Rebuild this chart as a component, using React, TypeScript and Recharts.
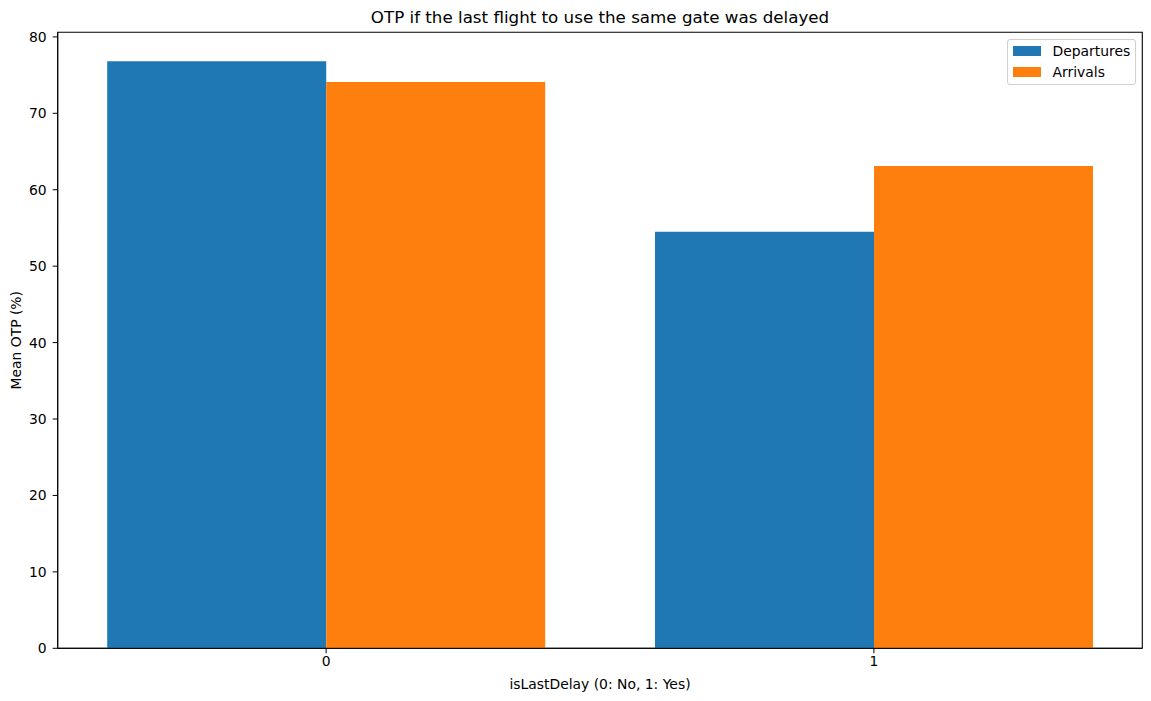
import React from 'react';
import { BarChart, Bar, XAxis, YAxis, Legend, ReferenceArea } from 'recharts';

const categories = [0, 1];
const departures = [76.8, 54.5];
const arrivals = [74.1, 63.1];
const seriesNames = ['Departures', 'Arrivals'];
const yTicks = [0, 10, 20, 30, 40, 50, 60, 70, 80];
const xTicks = [0, 1];
const title = 'OTP if the last flight to use the same gate was delayed';
const xLabel = 'isLastDelay (0: No, 1: Yes)';
const yLabel = 'Mean OTP (%)';

const data = categories.map((c, i) => ({ x: c, Departures: departures[i], Arrivals: arrivals[i] }));

const Y_MAX = 80.6;
const X_MIN = -0.49;
const X_MAX = 1.49;
const FONT = 'DejaVu Sans, sans-serif';

const LegendBox = (props: any) => {
  const payload = [...(props.payload || [])].sort(
    (a: any, b: any) => seriesNames.indexOf(a.value) - seriesNames.indexOf(b.value)
  );
  return (
    <div
      style={{
        boxSizing: 'border-box',
        width: 129,
        height: 46,
        border: '1px solid #d0d0d0',
        borderRadius: 3,
        background: 'rgba(255,255,255,0.8)',
        fontFamily: FONT,
        fontSize: 13.9,
        color: '#000',
        paddingTop: 1,
        textAlign: 'left',
      }}
    >
      {payload.map((p: any) => (
        <div key={p.value} style={{ display: 'flex', alignItems: 'center', height: 20.5, paddingLeft: 5 }}>
          <span style={{ display: 'inline-block', width: 27.5, height: 9.7, background: p.color, marginRight: 12 }} />
          <span>{p.value}</span>
        </div>
      ))}
    </div>
  );
};

export default function App() {
  return (
    <div style={{ position: 'absolute', left: 0, top: 0, width: 1151, height: 701, background: '#fff' }}>
      <div
        style={{
          position: 'absolute',
          left: 57.7,
          width: 1084.6,
          top: 6,
          textAlign: 'center',
          fontFamily: FONT,
          fontSize: 16.7,
          color: '#000',
          lineHeight: '22px',
        }}
      >
        {title}
      </div>
      <BarChart
        width={1151}
        height={701}
        data={data}
        margin={{ top: 32.3, right: 8.7, bottom: 0, left: 0 }}
        barGap={0}
      >
        <XAxis
          dataKey="x"
          type="number"
          domain={[X_MIN, X_MAX]}
          ticks={xTicks}
          allowDataOverflow
          height={52.7}
          tickSize={5}
          tickMargin={3}
          stroke="#000"
          tick={{ fill: '#000', fontSize: 13.9, fontFamily: FONT }}
          tickLine={{ stroke: '#000' }}
          label={(props: any) => {
            const vb = props.viewBox || {};
            return (
              <text
                x={vb.x + vb.width / 2}
                y={684}
                textAnchor="middle"
                dominantBaseline="central"
                fontSize={13.9}
                fontFamily={FONT}
                fill="#000"
              >
                {xLabel}
              </text>
            );
          }}
        />
        <YAxis
          type="number"
          domain={[0, Y_MAX]}
          ticks={yTicks}
          allowDataOverflow
          width={57.7}
          tickSize={5}
          tickMargin={6}
          stroke="#000"
          tick={{ fill: '#000', fontSize: 13.9, fontFamily: FONT }}
          tickLine={{ stroke: '#000' }}
          label={(props: any) => {
            const vb = props.viewBox || {};
            const cy = vb.y + vb.height / 2;
            return (
              <text
                x={16}
                y={cy}
                transform={`rotate(-90 16 ${cy})`}
                textAnchor="middle"
                dominantBaseline="central"
                fontSize={13.9}
                fontFamily={FONT}
                fill="#000"
              >
                {yLabel}
              </text>
            );
          }}
        />
        <Bar dataKey="Departures" fill="#1f77b4" barSize={219} isAnimationActive={false} />
        <Bar dataKey="Arrivals" fill="#ff7f0e" barSize={219} isAnimationActive={false} />
        <ReferenceArea
          x1={X_MIN}
          x2={X_MAX}
          y1={0}
          y2={Y_MAX}
          fill="none"
          fillOpacity={0}
          stroke="#000"
          strokeWidth={1.1}
          ifOverflow="visible"
        />
        <Legend
          layout="vertical"
          align="center"
          verticalAlign="middle"
          content={<LegendBox />}
          wrapperStyle={{ position: 'absolute', left: 1007, top: 39, width: 129, height: 46 }}
        />
      </BarChart>
    </div>
  );
}
